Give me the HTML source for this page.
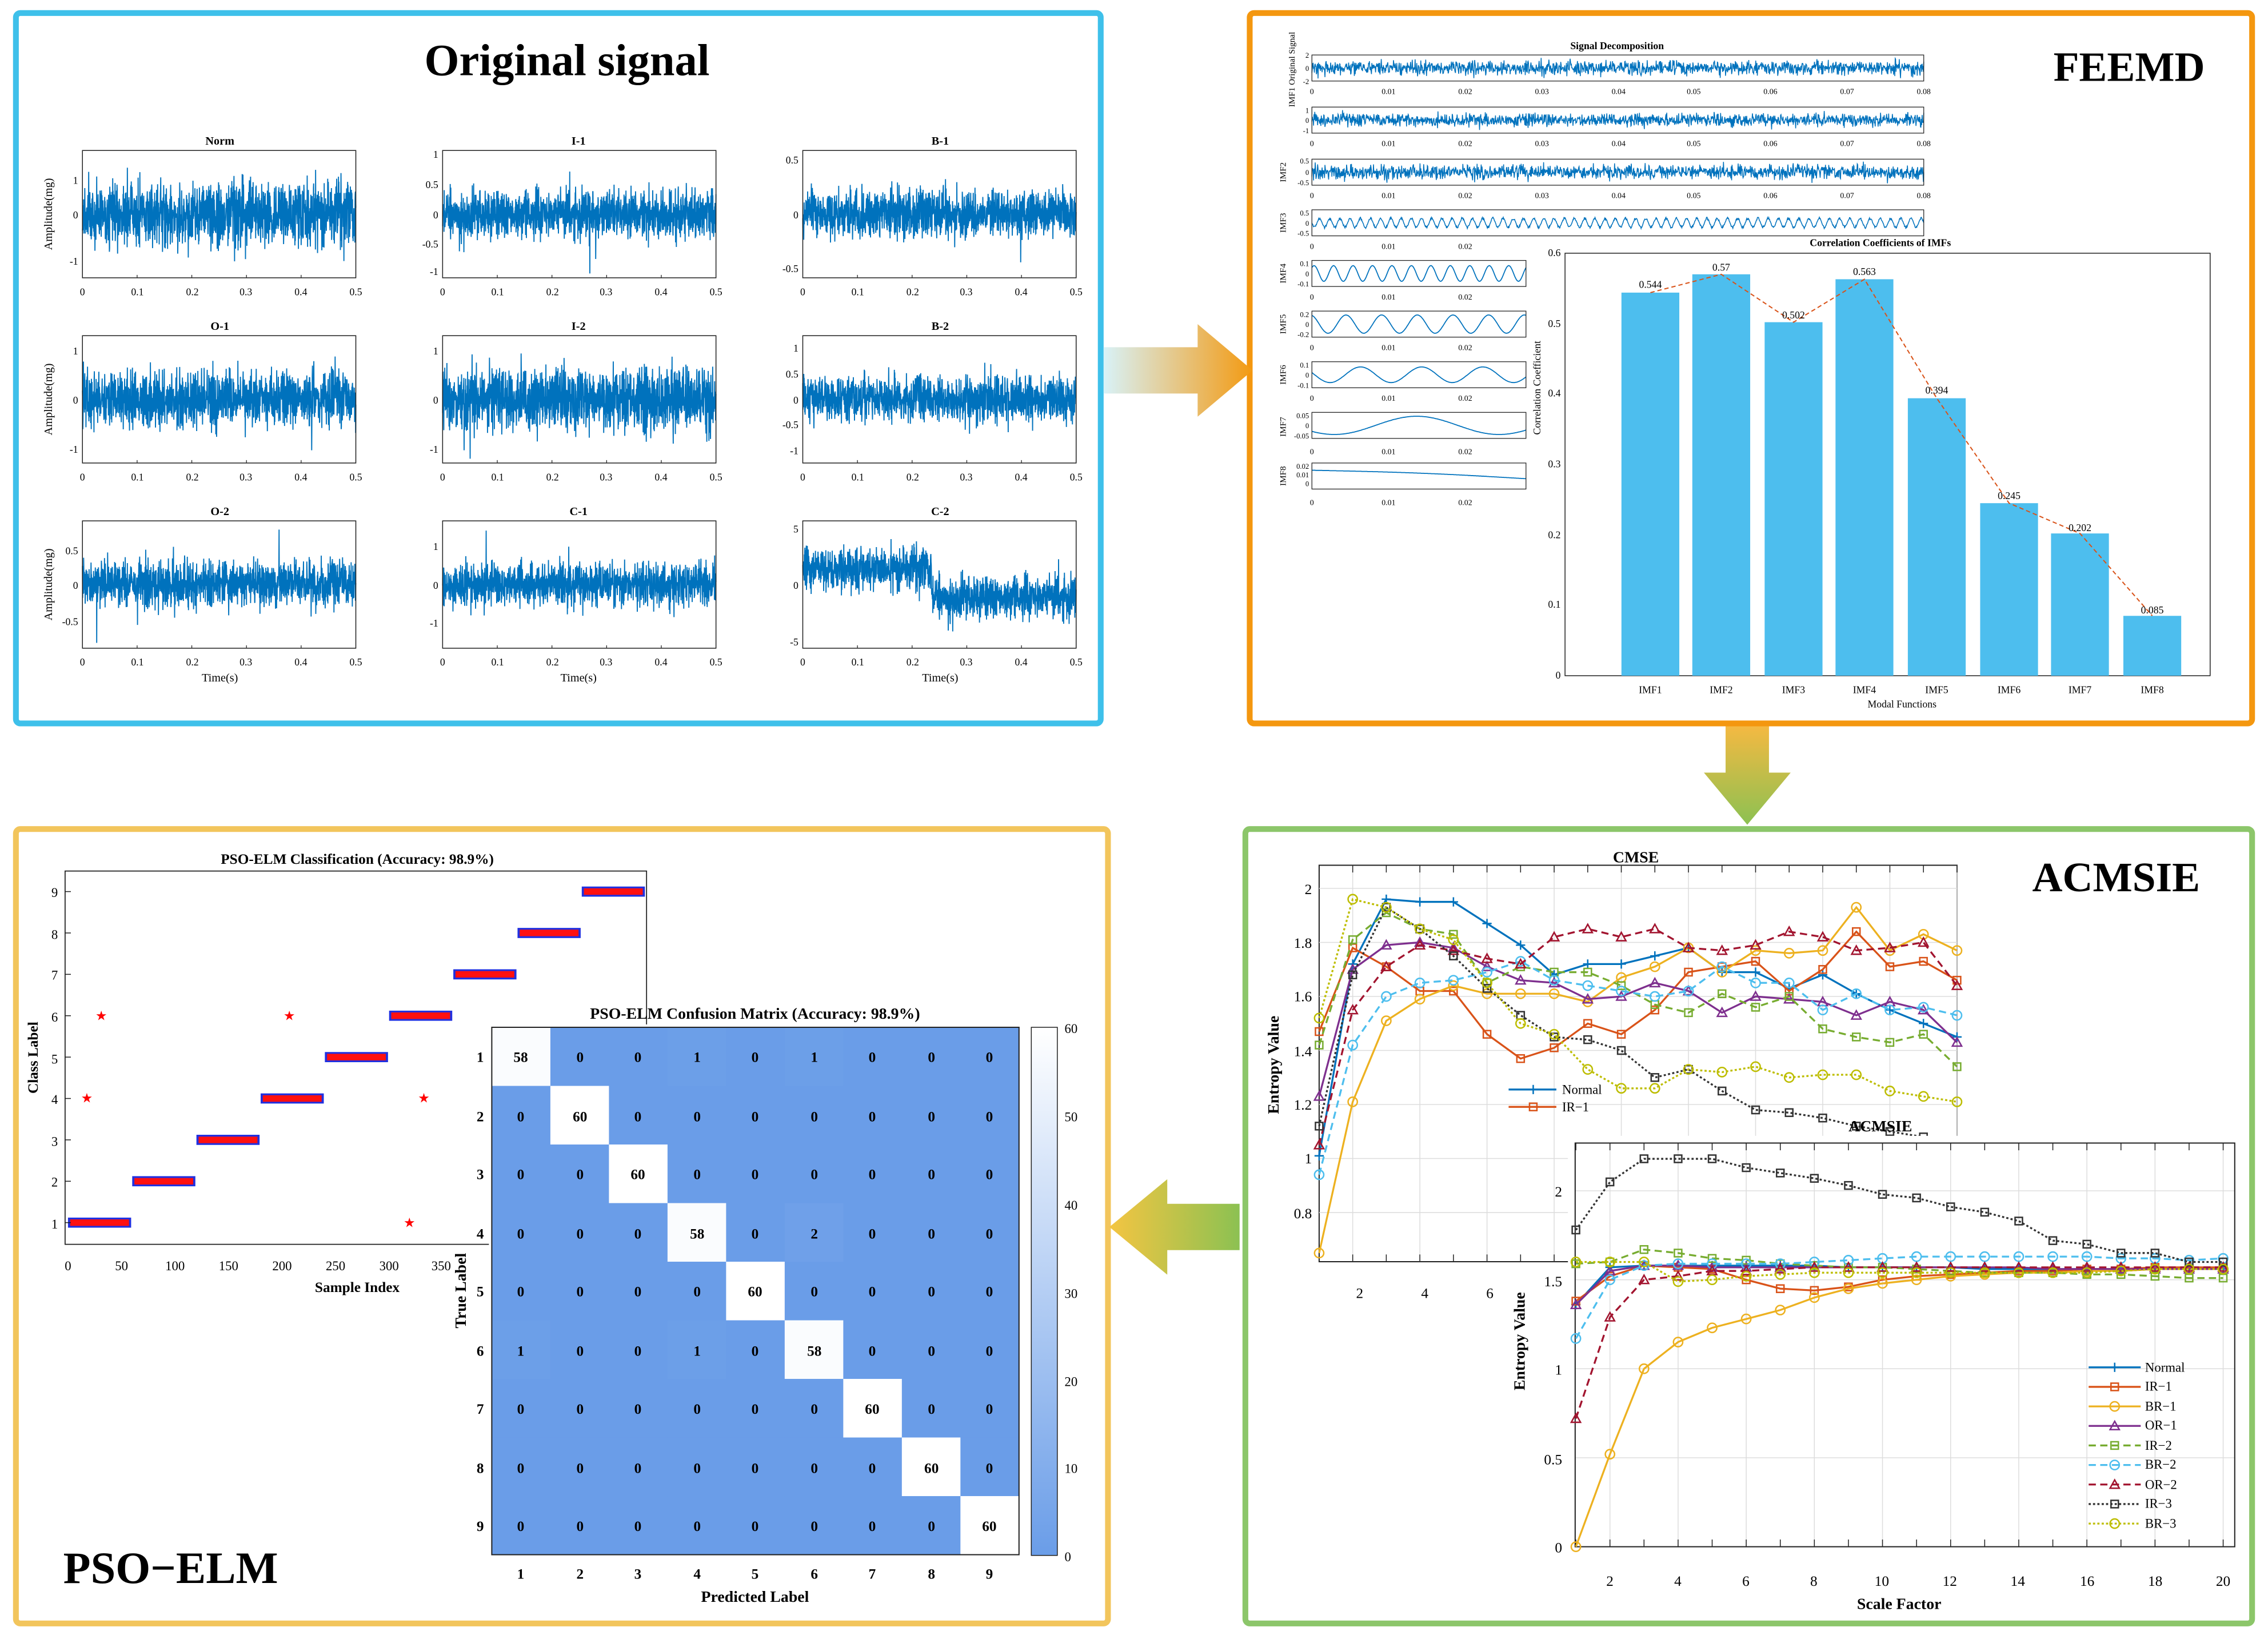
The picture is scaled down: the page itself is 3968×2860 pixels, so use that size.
<!DOCTYPE html>
<html><head><meta charset="utf-8"><style>
html,body{margin:0;padding:0;background:#fff}
svg{display:block}
text{font-family:"Liberation Serif",serif;fill:#000}
.t{font-size:7px}
.b{font-weight:bold}
</style></head><body>
<svg id="s" width="3968" height="2860" viewBox="0 0 1568 1130" preserveAspectRatio="none" xmlns="http://www.w3.org/2000/svg">
<defs>
<linearGradient id="gr" x1="0" x2="1" y1="0" y2="0"><stop offset="0" stop-color="#d8f2f8"/><stop offset="1" stop-color="#f39a12"/></linearGradient>
<linearGradient id="gd" x1="0" x2="0" y1="0" y2="1"><stop offset="0" stop-color="#f4b942"/><stop offset="1" stop-color="#8cc152"/></linearGradient>
<linearGradient id="gl" x1="1" x2="0" y1="0" y2="0"><stop offset="0" stop-color="#8cc152"/><stop offset="1" stop-color="#f4c542"/></linearGradient>
<linearGradient id="cb" x1="0" x2="0" y1="1" y2="0"><stop offset="0" stop-color="#6a9de8"/><stop offset="1" stop-color="#ffffff"/></linearGradient>
</defs>
<rect width="1568" height="1130" fill="#fff"/>
<rect x="11" y="9" width="750" height="491" fill="none" stroke="#3ec0ea" stroke-width="4" rx="3"/>
<rect x="864" y="9" width="693" height="491" fill="none" stroke="#f4970f" stroke-width="4" rx="3"/>
<rect x="861" y="573" width="696" height="549" fill="none" stroke="#8cc66a" stroke-width="4" rx="3"/>
<rect x="11" y="573" width="755" height="549" fill="none" stroke="#f2c55c" stroke-width="4" rx="3"/>
<polygon points="763,240 828,240 828,224 866,256 828,288 828,272 763,272" fill="url(#gr)"/>
<polygon points="1193,502 1223,502 1223,534 1238,534 1208,570 1178,534 1193,534" fill="url(#gd)"/>
<polygon points="857,832 807,832 807,815 767,848 807,881 807,864 857,864" fill="url(#gl)"/>

<text x="392" y="52" text-anchor="middle" class="b" style="font-size:31px">Original signal</text>
<text x="1472" y="56" text-anchor="middle" class="b" style="font-size:29px">FEEMD</text>
<text x="1463" y="616" text-anchor="middle" class="b" style="font-size:29px">ACMSIE</text>
<text x="118" y="1094" text-anchor="middle" class="b" style="font-size:31px">PSO−ELM</text>

<g id="orig"></g>
<g class="t b" text-anchor="middle" style="font-size:8px">
<text x="152" y="100">Norm</text><text x="400" y="100">I-1</text><text x="650" y="100">B-1</text>
<text x="152" y="228">O-1</text><text x="400" y="228">I-2</text><text x="650" y="228">B-2</text>
<text x="152" y="356">O-2</text><text x="400" y="356">C-1</text><text x="650" y="356">C-2</text>
</g>
<g class="t" text-anchor="middle" style="font-size:8px">
<text x="152" y="471">Time(s)</text><text x="400" y="471">Time(s)</text><text x="650" y="471">Time(s)</text>
<text transform="translate(36,148) rotate(-90)">Amplitude(mg)</text>
<text transform="translate(36,276) rotate(-90)">Amplitude(mg)</text>
<text transform="translate(36,404) rotate(-90)">Amplitude(mg)</text>
</g>
<g class="t" text-anchor="middle">
<text x="57" y="204">0</text><text x="95" y="204">0.1</text><text x="133" y="204">0.2</text><text x="170" y="204">0.3</text><text x="208" y="204">0.4</text><text x="246" y="204">0.5</text>
<text x="306" y="204">0</text><text x="344" y="204">0.1</text><text x="382" y="204">0.2</text><text x="419" y="204">0.3</text><text x="457" y="204">0.4</text><text x="495" y="204">0.5</text>
<text x="555" y="204">0</text><text x="593" y="204">0.1</text><text x="631" y="204">0.2</text><text x="668" y="204">0.3</text><text x="706" y="204">0.4</text><text x="744" y="204">0.5</text>
<text x="57" y="332">0</text><text x="95" y="332">0.1</text><text x="133" y="332">0.2</text><text x="170" y="332">0.3</text><text x="208" y="332">0.4</text><text x="246" y="332">0.5</text>
<text x="306" y="332">0</text><text x="344" y="332">0.1</text><text x="382" y="332">0.2</text><text x="419" y="332">0.3</text><text x="457" y="332">0.4</text><text x="495" y="332">0.5</text>
<text x="555" y="332">0</text><text x="593" y="332">0.1</text><text x="631" y="332">0.2</text><text x="668" y="332">0.3</text><text x="706" y="332">0.4</text><text x="744" y="332">0.5</text>
<text x="57" y="460">0</text><text x="95" y="460">0.1</text><text x="133" y="460">0.2</text><text x="170" y="460">0.3</text><text x="208" y="460">0.4</text><text x="246" y="460">0.5</text>
<text x="306" y="460">0</text><text x="344" y="460">0.1</text><text x="382" y="460">0.2</text><text x="419" y="460">0.3</text><text x="457" y="460">0.4</text><text x="495" y="460">0.5</text>
<text x="555" y="460">0</text><text x="593" y="460">0.1</text><text x="631" y="460">0.2</text><text x="668" y="460">0.3</text><text x="706" y="460">0.4</text><text x="744" y="460">0.5</text>
</g>
<g class="t" text-anchor="end">
<text x="54" y="127">1</text><text x="54" y="151">0</text><text x="54" y="183">-1</text>
<text x="303" y="109">1</text><text x="303" y="130">0.5</text><text x="303" y="151">0</text><text x="303" y="171">-0.5</text><text x="303" y="190">-1</text>
<text x="552" y="113">0.5</text><text x="552" y="151">0</text><text x="552" y="188">-0.5</text>
<text x="54" y="245">1</text><text x="54" y="279">0</text><text x="54" y="313">-1</text>
<text x="303" y="245">1</text><text x="303" y="279">0</text><text x="303" y="313">-1</text>
<text x="552" y="243">1</text><text x="552" y="261">0.5</text><text x="552" y="279">0</text><text x="552" y="296">-0.5</text><text x="552" y="314">-1</text>
<text x="54" y="383">0.5</text><text x="54" y="407">0</text><text x="54" y="432">-0.5</text>
<text x="303" y="380">1</text><text x="303" y="407">0</text><text x="303" y="433">-1</text>
<text x="552" y="368">5</text><text x="552" y="407">0</text><text x="552" y="446">-5</text>
</g>

<g id="fee"></g>
<text x="1118" y="34" text-anchor="middle" class="b" style="font-size:7px">Signal Decomposition</text>
<g style="font-size:6px" text-anchor="middle">
<text transform="translate(895,48) rotate(-90)">IMF1 Original Signal</text>
<text transform="translate(889,119) rotate(-90)">IMF2</text>
<text transform="translate(889,154) rotate(-90)">IMF3</text>
<text transform="translate(889,189) rotate(-90)">IMF4</text>
<text transform="translate(889,224) rotate(-90)">IMF5</text>
<text transform="translate(889,259) rotate(-90)">IMF6</text>
<text transform="translate(889,295) rotate(-90)">IMF7</text>
<text transform="translate(889,329) rotate(-90)">IMF8</text>
</g>
<g style="font-size:5.5px" text-anchor="middle">
<text x="907" y="65">0</text><text x="960" y="65">0.01</text><text x="1013" y="65">0.02</text><text x="1066" y="65">0.03</text><text x="1119" y="65">0.04</text><text x="1171" y="65">0.05</text><text x="1224" y="65">0.06</text><text x="1277" y="65">0.07</text><text x="1330" y="65">0.08</text>
<text x="907" y="101">0</text><text x="960" y="101">0.01</text><text x="1013" y="101">0.02</text><text x="1066" y="101">0.03</text><text x="1119" y="101">0.04</text><text x="1171" y="101">0.05</text><text x="1224" y="101">0.06</text><text x="1277" y="101">0.07</text><text x="1330" y="101">0.08</text>
<text x="907" y="137">0</text><text x="960" y="137">0.01</text><text x="1013" y="137">0.02</text><text x="1066" y="137">0.03</text><text x="1119" y="137">0.04</text><text x="1171" y="137">0.05</text><text x="1224" y="137">0.06</text><text x="1277" y="137">0.07</text><text x="1330" y="137">0.08</text>
<text x="907" y="172">0</text><text x="960" y="172">0.01</text><text x="1013" y="172">0.02</text>
<text x="907" y="207">0</text><text x="960" y="207">0.01</text><text x="1013" y="207">0.02</text>
<text x="907" y="242">0</text><text x="960" y="242">0.01</text><text x="1013" y="242">0.02</text>
<text x="907" y="277">0</text><text x="960" y="277">0.01</text><text x="1013" y="277">0.02</text>
<text x="907" y="314">0</text><text x="960" y="314">0.01</text><text x="1013" y="314">0.02</text>
<text x="907" y="349">0</text><text x="960" y="349">0.01</text><text x="1013" y="349">0.02</text>
</g>
<g style="font-size:5px" text-anchor="end">
<text x="905" y="40">2</text><text x="905" y="49">0</text><text x="905" y="58">-2</text>
<text x="905" y="78">1</text><text x="905" y="85">0</text><text x="905" y="92">-1</text>
<text x="905" y="113">0.5</text><text x="905" y="121">0</text><text x="905" y="128">-0.5</text>
<text x="905" y="149">0.5</text><text x="905" y="156">0</text><text x="905" y="163">-0.5</text>
<text x="905" y="184">0.1</text><text x="905" y="191">0</text><text x="905" y="198">-0.1</text>
<text x="905" y="219">0.2</text><text x="905" y="226">0</text><text x="905" y="233">-0.2</text>
<text x="905" y="254">0.1</text><text x="905" y="261">0</text><text x="905" y="268">-0.1</text>
<text x="905" y="289">0.05</text><text x="905" y="296">0</text><text x="905" y="303">-0.05</text>
<text x="905" y="324">0.02</text><text x="905" y="330">0.01</text><text x="905" y="336">0</text>
</g>
<text x="1300" y="170" text-anchor="middle" class="b" style="font-size:7px">Correlation Coefficients of IMFs</text>
<text transform="translate(1065,268) rotate(-90)" text-anchor="middle" style="font-size:7px">Correlation Coefficient</text>
<text x="1315" y="489" text-anchor="middle" style="font-size:7px">Modal Functions</text>
<g style="font-size:7px" text-anchor="end">
<text x="1079" y="177">0.6</text><text x="1079" y="226">0.5</text><text x="1079" y="274">0.4</text><text x="1079" y="323">0.3</text><text x="1079" y="372">0.2</text><text x="1079" y="420">0.1</text><text x="1079" y="469">0</text>
</g>
<g style="font-size:7px" text-anchor="middle">
<text x="1141" y="479">IMF1</text><text x="1190" y="479">IMF2</text><text x="1240" y="479">IMF3</text><text x="1289" y="479">IMF4</text><text x="1339" y="479">IMF5</text><text x="1389" y="479">IMF6</text><text x="1438" y="479">IMF7</text><text x="1488" y="479">IMF8</text>
</g>
<g id="bars"></g>
<g style="font-size:7px" text-anchor="middle">
<text x="1141" y="199">0.544</text><text x="1190" y="187">0.57</text><text x="1240" y="220">0.502</text><text x="1289" y="190">0.563</text><text x="1339" y="272">0.394</text><text x="1389" y="345">0.245</text><text x="1438" y="367">0.202</text><text x="1488" y="424">0.085</text>
</g>

<g id="cm"></g>
<text x="1131" y="596" text-anchor="middle" class="b" style="font-size:11px">CMSE</text>
<text transform="translate(884,736) rotate(-90)" text-anchor="middle" class="b" style="font-size:11px">Entropy Value</text>
<g style="font-size:10px" text-anchor="end">
<text x="907" y="618">2</text><text x="907" y="655">1.8</text><text x="907" y="692">1.6</text><text x="907" y="730">1.4</text><text x="907" y="767">1.2</text><text x="907" y="804">1</text><text x="907" y="842">0.8</text>
</g>
<g style="font-size:10px" text-anchor="middle"><text x="940" y="897">2</text><text x="985" y="897">4</text><text x="1030" y="897">6</text></g>
<g style="font-size:9px"><text x="1080" y="756">Normal</text><text x="1080" y="768">IR−1</text></g>
<g id="ac"></g>
<text x="1300" y="782" text-anchor="middle" class="b" style="font-size:11px">ACMSIE</text>
<text transform="translate(1054,927) rotate(-90)" text-anchor="middle" class="b" style="font-size:11px">Entropy Value</text>
<g style="font-size:10px" text-anchor="end">
<text x="1080" y="827">2</text><text x="1080" y="889">1.5</text><text x="1080" y="950">1</text><text x="1080" y="1012">0.5</text><text x="1080" y="1073">0</text>
</g>
<g style="font-size:10px" text-anchor="middle">
<text x="1113" y="1096">2</text><text x="1160" y="1096">4</text><text x="1207" y="1096">6</text><text x="1254" y="1096">8</text><text x="1301" y="1096">10</text><text x="1348" y="1096">12</text><text x="1395" y="1096">14</text><text x="1443" y="1096">16</text><text x="1490" y="1096">18</text><text x="1537" y="1096">20</text>
</g>
<text x="1313" y="1112" text-anchor="middle" class="b" style="font-size:11px">Scale Factor</text>
<g id="leg"></g>
<g style="font-size:9px">
<text x="1483" y="948">Normal</text><text x="1483" y="961">IR−1</text><text x="1483" y="975">BR−1</text><text x="1483" y="988">OR−1</text><text x="1483" y="1002">IR−2</text><text x="1483" y="1015">BR−2</text><text x="1483" y="1029">OR−2</text><text x="1483" y="1042">IR−3</text><text x="1483" y="1056">BR−3</text>
</g>

<g id="sc"></g>
<text x="247" y="597" text-anchor="middle" class="b" style="font-size:10px">PSO-ELM Classification (Accuracy: 98.9%)</text>
<text transform="translate(26,731) rotate(-90)" text-anchor="middle" class="b" style="font-size:10px">Class Label</text>
<text x="247" y="893" text-anchor="middle" class="b" style="font-size:10px">Sample Index</text>
<g style="font-size:9px" text-anchor="end">
<text x="40" y="849">1</text><text x="40" y="820">2</text><text x="40" y="792">3</text><text x="40" y="763">4</text><text x="40" y="735">5</text><text x="40" y="706">6</text><text x="40" y="677">7</text><text x="40" y="649">8</text><text x="40" y="620">9</text>
</g>
<g style="font-size:9px" text-anchor="middle">
<text x="47" y="878">0</text><text x="84" y="878">50</text><text x="121" y="878">100</text><text x="158" y="878">150</text><text x="195" y="878">200</text><text x="232" y="878">250</text><text x="269" y="878">300</text><text x="305" y="878">350</text>
</g>
<g id="cmx"></g>
<text x="522" y="704" text-anchor="middle" class="b" style="font-size:11px">PSO-ELM Confusion Matrix (Accuracy: 98.9%)</text>
<text transform="translate(322,892) rotate(-90)" text-anchor="middle" class="b" style="font-size:11px">True Label</text>
<text x="522" y="1107" text-anchor="middle" class="b" style="font-size:11px">Predicted Label</text>
<g style="font-size:10px" class="b" text-anchor="middle">
<text x="360" y="1091">1</text><text x="401" y="1091">2</text><text x="441" y="1091">3</text><text x="482" y="1091">4</text><text x="522" y="1091">5</text><text x="563" y="1091">6</text><text x="603" y="1091">7</text><text x="644" y="1091">8</text><text x="684" y="1091">9</text>
<text x="332" y="734">1</text><text x="332" y="775">2</text><text x="332" y="815">3</text><text x="332" y="856">4</text><text x="332" y="896">5</text><text x="332" y="937">6</text><text x="332" y="977">7</text><text x="332" y="1018">8</text><text x="332" y="1058">9</text>
</g>
<g style="font-size:10px" class="b" text-anchor="middle">
<text x="360" y="734">58</text><text x="401" y="734">0</text><text x="441" y="734">0</text><text x="482" y="734">1</text><text x="522" y="734">0</text><text x="563" y="734">1</text><text x="603" y="734">0</text><text x="644" y="734">0</text><text x="684" y="734">0</text>
<text x="360" y="775">0</text><text x="401" y="775">60</text><text x="441" y="775">0</text><text x="482" y="775">0</text><text x="522" y="775">0</text><text x="563" y="775">0</text><text x="603" y="775">0</text><text x="644" y="775">0</text><text x="684" y="775">0</text>
<text x="360" y="815">0</text><text x="401" y="815">0</text><text x="441" y="815">60</text><text x="482" y="815">0</text><text x="522" y="815">0</text><text x="563" y="815">0</text><text x="603" y="815">0</text><text x="644" y="815">0</text><text x="684" y="815">0</text>
<text x="360" y="856">0</text><text x="401" y="856">0</text><text x="441" y="856">0</text><text x="482" y="856">58</text><text x="522" y="856">0</text><text x="563" y="856">2</text><text x="603" y="856">0</text><text x="644" y="856">0</text><text x="684" y="856">0</text>
<text x="360" y="896">0</text><text x="401" y="896">0</text><text x="441" y="896">0</text><text x="482" y="896">0</text><text x="522" y="896">60</text><text x="563" y="896">0</text><text x="603" y="896">0</text><text x="644" y="896">0</text><text x="684" y="896">0</text>
<text x="360" y="937">1</text><text x="401" y="937">0</text><text x="441" y="937">0</text><text x="482" y="937">1</text><text x="522" y="937">0</text><text x="563" y="937">58</text><text x="603" y="937">0</text><text x="644" y="937">0</text><text x="684" y="937">0</text>
<text x="360" y="977">0</text><text x="401" y="977">0</text><text x="441" y="977">0</text><text x="482" y="977">0</text><text x="522" y="977">0</text><text x="563" y="977">0</text><text x="603" y="977">60</text><text x="644" y="977">0</text><text x="684" y="977">0</text>
<text x="360" y="1018">0</text><text x="401" y="1018">0</text><text x="441" y="1018">0</text><text x="482" y="1018">0</text><text x="522" y="1018">0</text><text x="563" y="1018">0</text><text x="603" y="1018">0</text><text x="644" y="1018">60</text><text x="684" y="1018">0</text>
<text x="360" y="1058">0</text><text x="401" y="1058">0</text><text x="441" y="1058">0</text><text x="482" y="1058">0</text><text x="522" y="1058">0</text><text x="563" y="1058">0</text><text x="603" y="1058">0</text><text x="644" y="1058">0</text><text x="684" y="1058">60</text>
</g>
<g style="font-size:9px">
<text x="736" y="714">60</text><text x="736" y="775">50</text><text x="736" y="836">40</text><text x="736" y="897">30</text><text x="736" y="958">20</text><text x="736" y="1018">10</text><text x="736" y="1079">0</text>
</g>
</svg>
<script>
(function(){
var NS="http://www.w3.org/2000/svg";
function E(t,a,p){var e=document.createElementNS(NS,t);for(var k in a)e.setAttribute(k,a[k]);(p||document.getElementById('s')).appendChild(e);return e;}
function G(id){return document.getElementById(id);}
var seed=12345;function R(){seed=(seed*1103515245+12345)%2147483648;return seed/2147483648;}
function N(){return (R()+R()+R()+R()-2)*0.87;}
var g=G('orig');var cols=[57,306,555],rows=[104,232,360],W=189,H=88;
var amps=[[0.25,0.19,0.19],[0.22,0.24,0.18],[0.18,0.17,0.17]];
for(var r=0;r<3;r++)for(var c=0;c<3;c++){
 var x0=cols[c],y0=rows[r],cy=y0+H/2,a=amps[r][c]*H,d="";
 for(var i=0;i<=1400;i++){var x=x0+W*i/1400;var off=0;
  if(r==2&&c==2){off=(i<660?-0.12:0.1)*H;}
  var v=N()*a;if(R()<0.01)v*=2;v=Math.max(-H/2+3,Math.min(H/2-3,v));
  d+=(i?"L":"M")+x.toFixed(2)+" "+(cy+off+v).toFixed(1);}
 E('path',{d:d,fill:'none',stroke:'#0072bd','stroke-width':0.75},g);
 E('rect',{x:x0,y:y0,width:W,height:H,fill:'none',stroke:'#222','stroke-width':0.6},g);
 for(var k=1;k<5;k++){var tx=x0+W*k/5;E('line',{x1:tx,x2:tx,y1:y0+H,y2:y0+H-2,stroke:'#222','stroke-width':0.5},g);}
}
g=G('fee');
var rowsF=[[38,1330,0.28,0],[74,1330,0.25,0],[110,1330,0.28,0],[145,1330,0.2,60],[180,1055,0.3,11],[215,1055,0.35,6],[250,1055,0.3,3.5],[285,1055,0.35,1.3],[320,1055,0,0]];
rowsF.forEach(function(rw,idx){var y0=rw[0],x1=rw[1],h=18,x0=907,cy=y0+h/2,d="";var n=idx<4?1500:400;
 for(var i=0;i<=n;i++){var t=i/n,x=x0+(x1-x0)*t,v;
  if(idx<3)v=N()*rw[2]*h;else if(idx==3)v=Math.sin(t*rw[3]*6.283)*rw[2]*h*(0.6+0.5*R());
  else if(idx<8)v=Math.sin(t*rw[3]*6.283+idx)*rw[2]*h;else v=-4+t*6-Math.sin(t*3)*1;
  d+=(i?"L":"M")+x.toFixed(2)+" "+(cy+v).toFixed(1);}
 E('path',{d:d,fill:'none',stroke:'#0072bd','stroke-width':idx<4?0.6:0.7},g);
 E('rect',{x:x0,y:y0,width:x1-x0,height:h,fill:'none',stroke:'#222','stroke-width':0.5},g);
});
g=G('bars');
E('rect',{x:1082,y:175,width:446,height:292,fill:'#fff',stroke:'#222','stroke-width':0.6},g);
var vals=[.544,.57,.502,.563,.394,.245,.202,.085],cx=[1141,1190,1240,1289,1339,1389,1438,1488],pd="";
vals.forEach(function(v,i){var h=v*486.7;E('rect',{x:cx[i]-20,y:467-h,width:40,height:h,fill:'#4dbeee'},g);pd+=(i?"L":"M")+cx[i]+" "+(467-h);});
E('path',{d:pd,fill:'none',stroke:'#d95319','stroke-width':0.8,'stroke-dasharray':'3,2'},g);
var cols9=['#0072bd','#d95319','#edb120','#7e2f8e','#77ac30','#4dbeee','#a2142f','#333333','#bdbd00'];
var dash=['','','','','5,3','5,3','5,3','1.5,1.5','1.5,1.5'];
var mk=['plus','sq','ci','tr','sq','ci','tr','sq','ci'];
function marker(p,x,y,i,s){var c=cols9[i];
 if(mk[i]=='plus'){E('path',{d:'M'+(x-s)+' '+y+'H'+(x+s)+'M'+x+' '+(y-s)+'V'+(y+s),stroke:c,'stroke-width':1},p);}
 else if(mk[i]=='sq')E('rect',{x:x-s*0.8,y:y-s*0.8,width:s*1.6,height:s*1.6,fill:'none',stroke:c,'stroke-width':1},p);
 else if(mk[i]=='ci')E('circle',{cx:x,cy:y,r:s,fill:'none',stroke:c,'stroke-width':1},p);
 else E('path',{d:'M'+x+' '+(y-s)+'L'+(x+s)+' '+(y+s*0.8)+'L'+(x-s)+' '+(y+s*0.8)+'Z',fill:'none',stroke:c,'stroke-width':1},p);}
var CM=[[1.01,1.72,1.96,1.95,1.95,1.87,1.79,1.68,1.72,1.72,1.75,1.78,1.69,1.69,1.63,1.68,1.61,1.55,1.50,1.45],
[1.47,1.78,1.71,1.62,1.62,1.46,1.37,1.41,1.50,1.46,1.55,1.69,1.71,1.73,1.62,1.70,1.84,1.71,1.73,1.66],
[0.65,1.21,1.51,1.59,1.64,1.61,1.61,1.61,1.58,1.67,1.71,1.78,1.69,1.77,1.76,1.77,1.93,1.77,1.83,1.77],
[1.23,1.70,1.79,1.80,1.78,1.71,1.66,1.65,1.59,1.60,1.65,1.62,1.54,1.60,1.59,1.58,1.53,1.58,1.55,1.43],
[1.42,1.81,1.91,1.85,1.83,1.65,1.71,1.69,1.69,1.64,1.57,1.54,1.61,1.56,1.60,1.48,1.45,1.43,1.46,1.34],
[0.94,1.42,1.60,1.65,1.66,1.69,1.73,1.66,1.64,1.62,1.60,1.62,1.71,1.65,1.65,1.55,1.61,1.55,1.56,1.53],
[1.05,1.55,1.71,1.79,1.77,1.74,1.72,1.82,1.85,1.82,1.85,1.78,1.77,1.79,1.84,1.82,1.77,1.78,1.80,1.64],
[1.12,1.68,1.93,1.85,1.75,1.63,1.53,1.45,1.44,1.40,1.30,1.33,1.25,1.18,1.17,1.15,1.12,1.1,1.08,1.05],
[1.52,1.96,1.93,1.85,1.81,1.65,1.50,1.46,1.33,1.26,1.26,1.33,1.32,1.34,1.30,1.31,1.31,1.25,1.23,1.21]];
g=G('cm');
E('rect',{x:912,y:598,width:441,height:274,fill:'#fff',stroke:'#222','stroke-width':0.8},g);
var cx0=912,cdx=(1353-912)/19;function cY(v){return 614+(2-v)*186.7;}
for(var k=1;k<=20;k++){var x=cx0+(k-1)*cdx;if(k%2==0)E('line',{x1:x,x2:x,y1:598,y2:872,stroke:'#ddd','stroke-width':0.6},g);
 E('line',{x1:x,x2:x,y1:872,y2:867,stroke:'#222','stroke-width':0.6},g);E('line',{x1:x,x2:x,y1:598,y2:603,stroke:'#222','stroke-width':0.6},g);}
[0.8,1,1.2,1.4,1.6,1.8,2].forEach(function(v){E('line',{x1:912,x2:1353,y1:cY(v),y2:cY(v),stroke:'#ddd','stroke-width':0.6},g);});
CM.forEach(function(a,i){var d="";a.forEach(function(v,k){d+=(k?"L":"M")+(cx0+k*cdx).toFixed(1)+" "+cY(v).toFixed(1);});
 E('path',{d:d,fill:'none',stroke:cols9[i],'stroke-width':1.3,'stroke-dasharray':dash[i]},g);
 a.forEach(function(v,k){marker(g,cx0+k*cdx,cY(v),i,3.2);});});
E('line',{x1:1043,x2:1076,y1:753,y2:753,stroke:cols9[0],'stroke-width':1.3},g);marker(g,1060,753,0,3.2);
E('line',{x1:1043,x2:1076,y1:765,y2:765,stroke:cols9[1],'stroke-width':1.3},g);marker(g,1060,765,1,3.2);
var AC=[[1.36,1.57,1.58,1.58,1.58,1.58,1.58,1.58,1.57,1.57,1.57,1.57,1.56,1.56,1.56,1.56,1.56,1.56,1.56,1.56],
[1.38,1.52,1.58,1.57,1.56,1.50,1.45,1.44,1.46,1.50,1.52,1.53,1.54,1.55,1.55,1.56,1.56,1.57,1.57,1.57],
[0.0,0.52,1.0,1.15,1.23,1.28,1.33,1.40,1.45,1.48,1.50,1.52,1.53,1.54,1.54,1.55,1.55,1.56,1.56,1.56],
[1.36,1.55,1.58,1.58,1.57,1.57,1.57,1.57,1.57,1.57,1.57,1.57,1.57,1.57,1.56,1.56,1.56,1.56,1.56,1.56],
[1.59,1.60,1.67,1.65,1.62,1.61,1.59,1.58,1.57,1.57,1.56,1.55,1.54,1.54,1.54,1.53,1.53,1.52,1.51,1.51],
[1.17,1.50,1.58,1.59,1.59,1.59,1.59,1.60,1.61,1.62,1.63,1.63,1.63,1.63,1.63,1.63,1.62,1.62,1.61,1.62],
[0.72,1.29,1.50,1.52,1.55,1.55,1.56,1.57,1.57,1.57,1.57,1.57,1.57,1.57,1.57,1.57,1.57,1.57,1.57,1.57],
[1.78,2.05,2.18,2.18,2.18,2.13,2.10,2.07,2.03,1.98,1.96,1.91,1.88,1.83,1.72,1.70,1.65,1.65,1.60,1.60],
[1.60,1.60,1.60,1.49,1.50,1.52,1.53,1.54,1.54,1.54,1.54,1.54,1.54,1.54,1.54,1.54,1.55,1.56,1.56,1.56]];
g=G('ac');
E('rect',{x:1084,y:785,width:462,height:286,fill:'#fff'},g);
var ax0=1089.5,adx=(1537-1089.5)/19;function aY(v){return 1069-v*123;}
for(var k=1;k<=20;k++){var x=ax0+(k-1)*adx;if(k%2==0)E('line',{x1:x,x2:x,y1:790,y2:1069,stroke:'#ddd','stroke-width':0.6},g);
 E('line',{x1:x,x2:x,y1:1069,y2:1064,stroke:'#222','stroke-width':0.6},g);E('line',{x1:x,x2:x,y1:790,y2:795,stroke:'#222','stroke-width':0.6},g);}
[0.5,1,1.5,2].forEach(function(v){E('line',{x1:1089,x2:1545,y1:aY(v),y2:aY(v),stroke:'#ddd','stroke-width':0.6},g);});
E('rect',{x:1089,y:790,width:456,height:279,fill:'none',stroke:'#222','stroke-width':0.8},g);
AC.forEach(function(a,i){var d="";a.forEach(function(v,k){d+=(k?"L":"M")+(ax0+k*adx).toFixed(1)+" "+aY(v).toFixed(1);});
 E('path',{d:d,fill:'none',stroke:cols9[i],'stroke-width':1.3,'stroke-dasharray':dash[i]},g);
 a.forEach(function(v,k){marker(g,ax0+k*adx,aY(v),i,3.2);});});
g=G('leg');
for(var i=0;i<9;i++){var y=945+i*13.5;E('line',{x1:1444,x2:1480,y1:y,y2:y,stroke:cols9[i],'stroke-width':1.3,'stroke-dasharray':dash[i]},g);marker(g,1462,y,i,3.2);}
g=G('sc');
E('rect',{x:45,y:602,width:402,height:258,fill:'#fff',stroke:'#222','stroke-width':0.7},g);
function sX(v){return 47+v*0.74;}function sY(v){return 845-(v-1)*28.6;}
for(var k=1;k<=9;k++){E('line',{x1:sX((k-1)*60),x2:sX(k*60-1),y1:sY(k),y2:sY(k),stroke:'#2030e0','stroke-width':7},g);
 E('line',{x1:sX((k-1)*60)+1.5,x2:sX(k*60-1)-1.5,y1:sY(k),y2:sY(k),stroke:'#ff1010','stroke-width':4.5},g);
 E('line',{x1:45,x2:49,y1:sY(k),y2:sY(k),stroke:'#222','stroke-width':0.6},g);}
[[60,759],[70,702],[200,702],[293,759],[283,845]].forEach(function(p){var t=E('text',{x:p[0],y:p[1]+3,'text-anchor':'middle',style:'font-size:9px;fill:#f00'},g);t.textContent='★';});
g=G('cmx');
E('rect',{x:338,y:708,width:370,height:370,fill:'#fff'},g);
var cs=40.5,mx=340,my=710;
var M=[[58,0,0,1,0,1,0,0,0],[0,60,0,0,0,0,0,0,0],[0,0,60,0,0,0,0,0,0],[0,0,0,58,0,2,0,0,0],[0,0,0,0,60,0,0,0,0],[1,0,0,1,0,58,0,0,0],[0,0,0,0,0,0,60,0,0],[0,0,0,0,0,0,0,60,0],[0,0,0,0,0,0,0,0,60]];
function col(v){var t=v/60;var r=Math.round(106+(255-106)*t),gg=Math.round(157+(255-157)*t),b=Math.round(232+(255-232)*t);return 'rgb('+r+','+gg+','+b+')';}
for(var r=0;r<9;r++)for(var c=0;c<9;c++)E('rect',{x:mx+c*cs,y:my+r*cs,width:cs+0.3,height:cs+0.3,fill:col(M[r][c])},g);
E('rect',{x:mx,y:my,width:cs*9,height:cs*9,fill:'none',stroke:'#222','stroke-width':0.8},g);
E('rect',{x:713,y:710,width:18,height:365,fill:'url(#cb)',stroke:'#222','stroke-width':0.6},g);
})();
</script>
</body></html>
